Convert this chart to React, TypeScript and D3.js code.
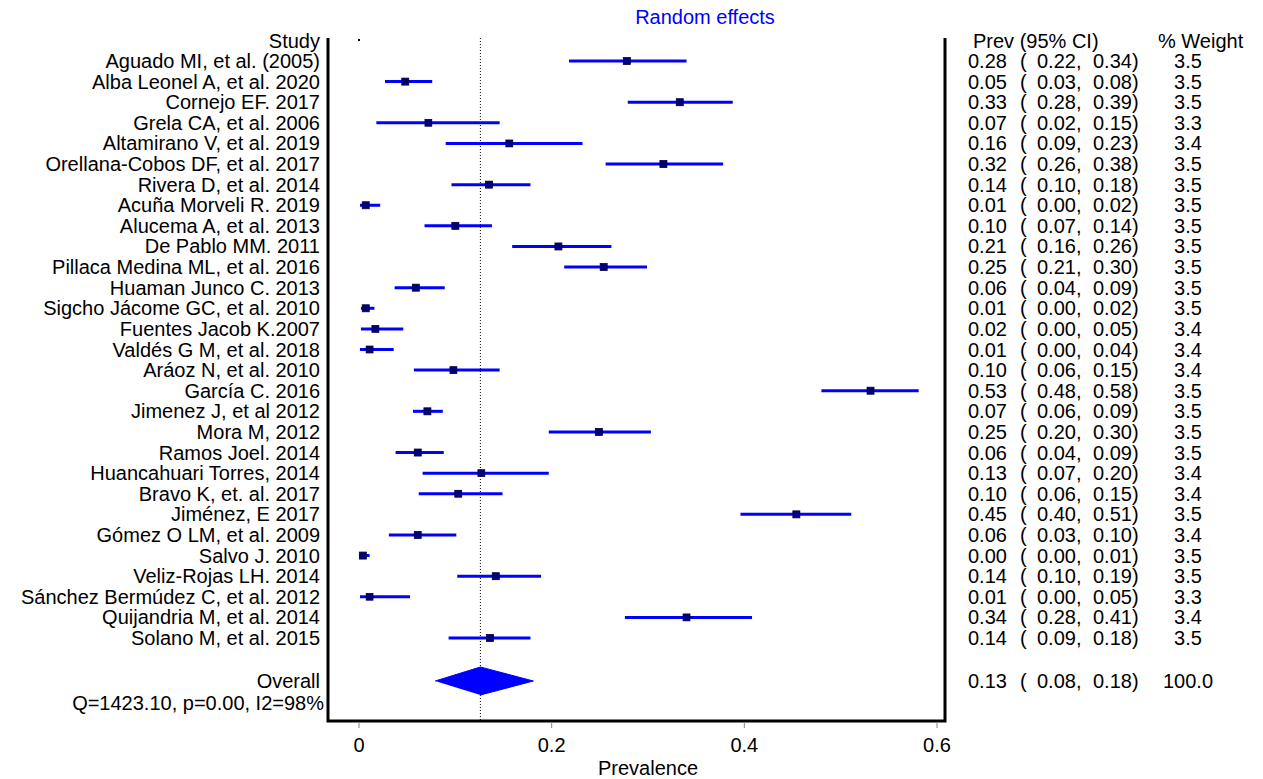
import React from "react";
import * as d3 from "d3";

const studies = [
  "Aguado MI, et al. (2005)",
  "Alba Leonel A, et al. 2020",
  "Cornejo EF. 2017",
  "Grela CA, et al. 2006",
  "Altamirano V, et al. 2019",
  "Orellana-Cobos DF, et al. 2017",
  "Rivera D, et al. 2014",
  "Acuña Morveli R. 2019",
  "Alucema A, et al. 2013",
  "De Pablo MM. 2011",
  "Pillaca Medina ML, et al. 2016",
  "Huaman Junco C. 2013",
  "Sigcho Jácome GC, et al. 2010",
  "Fuentes Jacob K.2007",
  "Valdés G M, et al. 2018",
  "Aráoz N, et al. 2010",
  "García C. 2016",
  "Jimenez J, et al 2012",
  "Mora M, 2012",
  "Ramos Joel. 2014",
  "Huancahuari Torres, 2014",
  "Bravo K, et. al. 2017",
  "Jiménez, E 2017",
  "Gómez O LM, et al. 2009",
  "Salvo J. 2010",
  "Veliz-Rojas LH. 2014",
  "Sánchez Bermúdez C, et al. 2012",
  "Quijandria M, et al. 2014",
  "Solano M, et al. 2015",
];

const prev = [0.278, 0.048, 0.333, 0.072, 0.156, 0.316, 0.135, 0.007, 0.1, 0.207, 0.254, 0.059, 0.007, 0.017, 0.011, 0.098, 0.531, 0.071, 0.249, 0.061, 0.127, 0.103, 0.454, 0.061, 0.004, 0.142, 0.011, 0.34, 0.136];
const lower = [0.218, 0.027, 0.279, 0.018, 0.09, 0.256, 0.096, 0.001, 0.068, 0.159, 0.213, 0.037, 0.002, 0.002, 0.001, 0.057, 0.48, 0.056, 0.197, 0.038, 0.066, 0.062, 0.396, 0.031, 0.0, 0.102, 0.001, 0.276, 0.093];
const upper = [0.34, 0.076, 0.388, 0.146, 0.232, 0.378, 0.178, 0.022, 0.138, 0.262, 0.299, 0.089, 0.016, 0.046, 0.036, 0.146, 0.581, 0.087, 0.303, 0.088, 0.197, 0.149, 0.511, 0.101, 0.011, 0.189, 0.053, 0.408, 0.178];
const weights = [3.5, 3.5, 3.5, 3.3, 3.4, 3.5, 3.5, 3.5, 3.5, 3.5, 3.5, 3.5, 3.5, 3.4, 3.4, 3.4, 3.5, 3.5, 3.5, 3.5, 3.4, 3.4, 3.5, 3.4, 3.5, 3.5, 3.3, 3.4, 3.5];

const overall = { est: 0.126, lo: 0.079, hi: 0.181, weight: 100.0 };
const heterogeneity = "Q=1423.10, p=0.00, I2=98%";
const xTicks = [0, 0.2, 0.4, 0.6];

const FONT = "'Liberation Sans', Arial, Helvetica, sans-serif";
const FS = 20;

export default function App() {
  const x = d3.scaleLinear().domain([0, 0.6]).range([359, 937]);
  const y = d3.scaleLinear().domain([0, studies.length - 1]).range([61, 638]);
  const yHeader = 41;
  const yOverall = 681;
  const yQ = 703;
  const frameLeft = 328;
  const frameRight = 945;
  const frameTop = 38;
  const frameBottom = 721;
  const sq = d3.scaleSqrt().domain([0, 3.5]).range([0, 7]);
  const fmt = d3.format(".2f");
  const fmtW = d3.format(".1f");
  const base = 7; // baseline offset from row center

  const diamond = d3.line<[number, number]>()([
    [x(overall.lo), yOverall],
    [x(overall.est), yOverall - 14],
    [x(overall.hi), yOverall],
    [x(overall.est), yOverall + 14],
  ]) as string;

  return (
    <svg
      width={1263}
      height={779}
      style={{ position: "absolute", left: 0, top: 0, background: "#fff" }}
      fontFamily={FONT}
      fontSize={FS}
    >
      <rect width={1263} height={779} fill="#fff" />
      <text x={705} y={24} textAnchor="middle" fill="#0000ff">
        Random effects
      </text>

      {/* reference dotted line */}
      <line
        x1={x(overall.est)}
        x2={x(overall.est)}
        y1={frameTop}
        y2={frameBottom}
        stroke="#000"
        strokeWidth={1}
        strokeDasharray="1,2"
      />

      {/* frame */}
      <path
        d={`M${frameLeft},${frameTop}V${frameBottom}H${frameRight}V${frameTop}`}
        fill="none"
        stroke="#000"
        strokeWidth={3}
      />

      {/* stray point at origin */}
      <rect x={x(0) - 1} y={yHeader - 2} width={2} height={2} fill="#000" />

      {/* headers */}
      <text x={320} y={yHeader + base} textAnchor="end">Study</text>
      <text x={973} y={yHeader + base}>Prev (95% CI)</text>
      <text x={1158} y={yHeader + base}>% Weight</text>

      {studies.map((s, i) => {
        const cy = y(i);
        const side = sq(weights[i]);
        return (
          <g key={s}>
            <text x={320} y={cy + base} textAnchor="end">{s}</text>
            <line x1={x(lower[i])} x2={x(upper[i])} y1={cy} y2={cy} stroke="#0000ff" strokeWidth={3} />
            <rect
              x={x(prev[i]) - side / 2}
              y={cy - side / 2}
              width={side}
              height={side}
              fill="#000080"
              stroke="#000033"
              strokeWidth={0.8}
            />
            <text x={968} y={cy + base}>{fmt(prev[i])}</text>
            <text x={1020} y={cy + base}>(</text>
            <text x={1037} y={cy + base}>{fmt(lower[i])},</text>
            <text x={1093} y={cy + base}>{fmt(upper[i])})</text>
            <text x={1188} y={cy + base} textAnchor="middle">{fmtW(weights[i])}</text>
          </g>
        );
      })}

      {/* overall */}
      <path d={diamond} fill="#0000ff" stroke="#0000ff" strokeWidth={1} />
      <text x={320} y={yOverall + base} textAnchor="end">Overall</text>
      <text x={968} y={yOverall + base}>{fmt(overall.est)}</text>
      <text x={1020} y={yOverall + base}>(</text>
      <text x={1037} y={yOverall + base}>{fmt(overall.lo)},</text>
      <text x={1093} y={yOverall + base}>{fmt(overall.hi)})</text>
      <text x={1188} y={yOverall + base} textAnchor="middle">{fmtW(overall.weight)}</text>
      <text x={324} y={yQ + base} textAnchor="end">{heterogeneity}</text>

      {/* x axis */}
      {xTicks.map((t) => (
        <g key={t}>
          <line x1={x(t)} x2={x(t)} y1={frameBottom + 1.5} y2={frameBottom + 7} stroke="#888" strokeWidth={1} />
          <text x={x(t)} y={752} textAnchor="middle">{t === 0 ? "0" : d3.format(".1f")(t)}</text>
        </g>
      ))}
      <text x={(x(0) + x(0.6)) / 2} y={775} textAnchor="middle">Prevalence</text>
    </svg>
  );
}
